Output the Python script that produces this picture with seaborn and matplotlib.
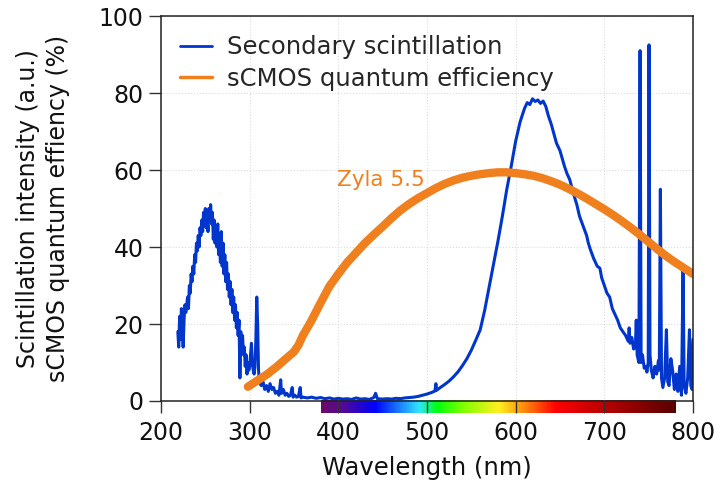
import numpy as np
import pandas as pd
import seaborn as sns
import matplotlib.pyplot as plt
from matplotlib.colors import LinearSegmentedColormap
from matplotlib.lines import Line2D


# Secondary scintillation spectrum
scint_nm = [219, 220, 221, 222, 223, 224, 225, 226, 227, 228, 230, 231, 232, 233, 234, 235, 236, 237, 238, 239,
            240, 241, 242, 243, 244, 245, 246, 247, 248, 249, 250, 251, 252, 253, 254, 255, 256, 257, 258, 259,
            260, 261, 262, 263, 264, 265, 266, 267, 268, 269, 270, 271, 272, 273, 274, 275, 276, 277, 278, 279,
            280, 281, 282, 283, 284, 285, 286, 287, 288, 289, 290, 291, 292, 293, 294, 295, 296, 297, 298, 299,
            300, 301, 302, 303, 304, 305, 306, 307, 308, 309, 310, 311, 313, 315, 317, 319, 321, 323, 325, 327,
            329, 331, 333, 335, 336, 338, 340, 342, 344, 346, 348, 349, 351, 353, 355, 357, 358, 360, 365, 370,
            375, 380, 385, 390, 395, 400, 405, 410, 415, 420, 425, 430, 435, 440, 442, 444, 450, 455, 460, 465,
            470, 475, 480, 485, 490, 495, 500, 505, 509, 510, 511, 515, 520, 525, 530, 535, 540, 545, 550, 555,
            560, 565, 570, 575, 580, 585, 590, 595, 600, 605, 610, 613, 616, 619, 622, 625, 628, 631, 634, 637,
            640, 646, 650, 655, 658, 661, 665, 669, 672, 676, 680, 682, 684, 688, 692, 695, 697, 700, 703, 706,
            709, 712, 715, 718, 721, 724, 727, 728, 729, 731, 733, 735, 736, 737, 739, 740.3, 741.5, 743, 745, 747,
            748, 749.5, 750.4, 751.5, 753, 755, 757, 759, 761, 762, 763.2, 764.5, 766, 768, 770, 771.5, 773, 775, 777, 779,
            781, 783, 785, 787, 788.8, 790, 792, 794, 796, 797.5, 799, 800]
scint_val = [18, 14, 22, 16, 24, 19, 14, 21, 25, 23, 27, 24, 30, 28, 33, 31, 35, 33, 38, 36,
             41, 39, 43, 40, 45, 43, 47, 44, 49, 46, 50, 45, 48, 44, 50, 47, 51, 46, 49, 42,
             47, 41, 45, 40, 46, 38, 43, 36, 44, 35, 41, 33, 38, 31, 36, 29, 33, 27, 31, 25,
             29, 23, 27, 21, 25, 19, 23, 17, 21, 6, 18, 15, 17, 12, 14, 9, 12, 7, 10, 8,
             9, 12, 15, 10, 8, 7, 9, 16, 27, 20, 8, 5, 4, 5, 3, 4, 2.5, 4.5, 3, 3.5,
             2, 2.5, 1.5, 5.5, 2, 3, 1.5, 2, 1.2, 1.5, 3.5, 1, 1.5, 1, 1.2, 3.5, 0.8, 1, 0.8, 1,
             0.7, 0.9, 0.6, 0.8, 0.5, 0.7, 0.5, 0.6, 0.4, 0.8, 0.5, 0.6, 0.4, 0.9, 2.0, 0.6, 0.5, 0.6, 0.5, 0.7,
             0.6, 0.8, 0.9, 1.0, 1.2, 1.5, 1.8, 2.2, 2.6, 4.5, 2.8, 3.5, 4.3, 5.2, 6.3, 7.6, 9.2, 11, 13.2, 15.8,
             18.5, 23.5, 29.5, 35.5, 41.5, 48, 55, 61, 67.5, 72.5, 76, 77.5, 77, 78.5, 77.8, 78.2, 77.3, 77.9, 76.5, 74,
             72, 67, 65, 61, 59, 57.5, 54, 51, 48, 45.5, 43, 41, 39.5, 37, 35, 34.5, 32, 30, 28, 27,
             24, 22.5, 21, 19, 18, 17, 15.5, 19, 15, 16.5, 13.5, 14, 21, 12, 10, 91, 10, 12, 8.5, 9,
             7.5, 10, 92.5, 12, 8, 6, 9, 7, 10.5, 8, 55, 6, 3.5, 6, 18.5, 5, 4, 11, 8, 3,
             7, 2.5, 9, 1.5, 34, 4, 2, 6, 18.5, 4, 3, 16]

# sCMOS (Zyla 5.5) quantum efficiency
qe_nm = [298, 310, 320, 330, 340, 350, 355, 360, 370, 380, 390, 400, 410, 420, 430, 440, 450, 460, 470, 480,
         490, 500, 510, 520, 530, 540, 550, 560, 570, 580, 590, 600, 610, 620, 630, 640, 650, 660, 670, 680,
         690, 700, 710, 720, 730, 740, 750, 760, 770, 780, 790, 800]
qe_val = [3.7, 5.5, 7, 8.8, 10.8, 12.8, 14.5, 17, 21, 25.5, 29.8, 33, 36, 38.5, 41, 43.2, 45.3, 47.5, 49.5, 51.2,
          52.7, 54, 55.3, 56.4, 57.3, 58, 58.5, 58.9, 59.2, 59.4, 59.4, 59.2, 58.9, 58.5, 57.9, 57.1, 56.2, 55.1, 53.9, 52.6,
          51.2, 49.8, 48.3, 46.7, 45, 43.2, 41.3, 39.4, 37.6, 36, 34.5, 33]

# visible spectrum strip under the axis
spec_nm = [380, 400, 440, 490, 510, 540, 580, 605, 645, 700, 780]
spec_col = ["#6a0a6a", "#5a0a8c", "#0000ff", "#30e6ff", "#00ff10", "#80ff00", "#fff020",
            "#ff9a10", "#ff0000", "#b80000", "#580000"]

blue = "#0036cc"
orange = "#f07f1e"

df_scint = pd.DataFrame({"nm": scint_nm, "val": scint_val})
df_qe = pd.DataFrame({"nm": qe_nm, "val": qe_val})

sns.set_theme(style="ticks")
plt.rcParams["font.family"] = ["DejaVu Sans"]

fig = plt.figure(figsize=(7.2, 4.91), dpi=100)
ax = fig.add_axes([0.2236, 0.1833, 0.7389, 0.7841])

sns.lineplot(data=df_scint, x="nm", y="val", ax=ax, color=blue, lw=2.2, estimator=None, sort=True)
sns.lineplot(data=df_qe, x="nm", y="val", ax=ax, color=orange, lw=6, estimator=None, sort=True,
             solid_capstyle="round")

# spectrum colour strip
cmap = LinearSegmentedColormap.from_list(
    "spec", [((w - spec_nm[0]) / (spec_nm[-1] - spec_nm[0]), c) for w, c in zip(spec_nm, spec_col)])
grad = np.linspace(0, 1, 400).reshape(1, -1)
ax.imshow(grad, cmap=cmap, aspect="auto", extent=(spec_nm[0], spec_nm[-1], -3.2, 0),
          clip_on=False, zorder=0)

ax.set_xlim(200, 800)
ax.set_ylim(0, 100)
ax.set_xticks(range(200, 801, 100))
ax.set_yticks(range(0, 101, 20))
ax.grid(True, linestyle=":", color="#dcdcdc", lw=0.8)

for s in ax.spines.values():
    s.set_color("#222222")
    s.set_linewidth(1.1)
ax.tick_params(axis="both", direction="out", length=8.5, width=1, color="#333333",
               labelsize=17, labelcolor="#111111")
ax.tick_params(axis="x", pad=6)
ax.tick_params(axis="y", pad=4)

ax.set_xlabel("Wavelength (nm)", fontsize=17.5, color="#111111", labelpad=8)
ax.set_ylabel("Scintillation intensity (a.u.)\nsCMOS quantum effiency (%)", fontsize=17,
              color="#111111", labelpad=21, linespacing=1.3)

ax.text(448, 57.4, "Zyla 5.5", color=orange, fontsize=15.5, ha="center", va="center")

handles = [Line2D([], [], color=blue, lw=2), Line2D([], [], color=orange, lw=2.5)]
ax.legend(handles, ["Secondary scintillation", "sCMOS quantum efficiency"], loc="upper left",
          bbox_to_anchor=(0.0, 1.0), frameon=False, fontsize=17.5, handlelength=1.3,
          handletextpad=0.6, labelspacing=0.3, borderaxespad=0.4)

plt.savefig("out.png", dpi=100)
